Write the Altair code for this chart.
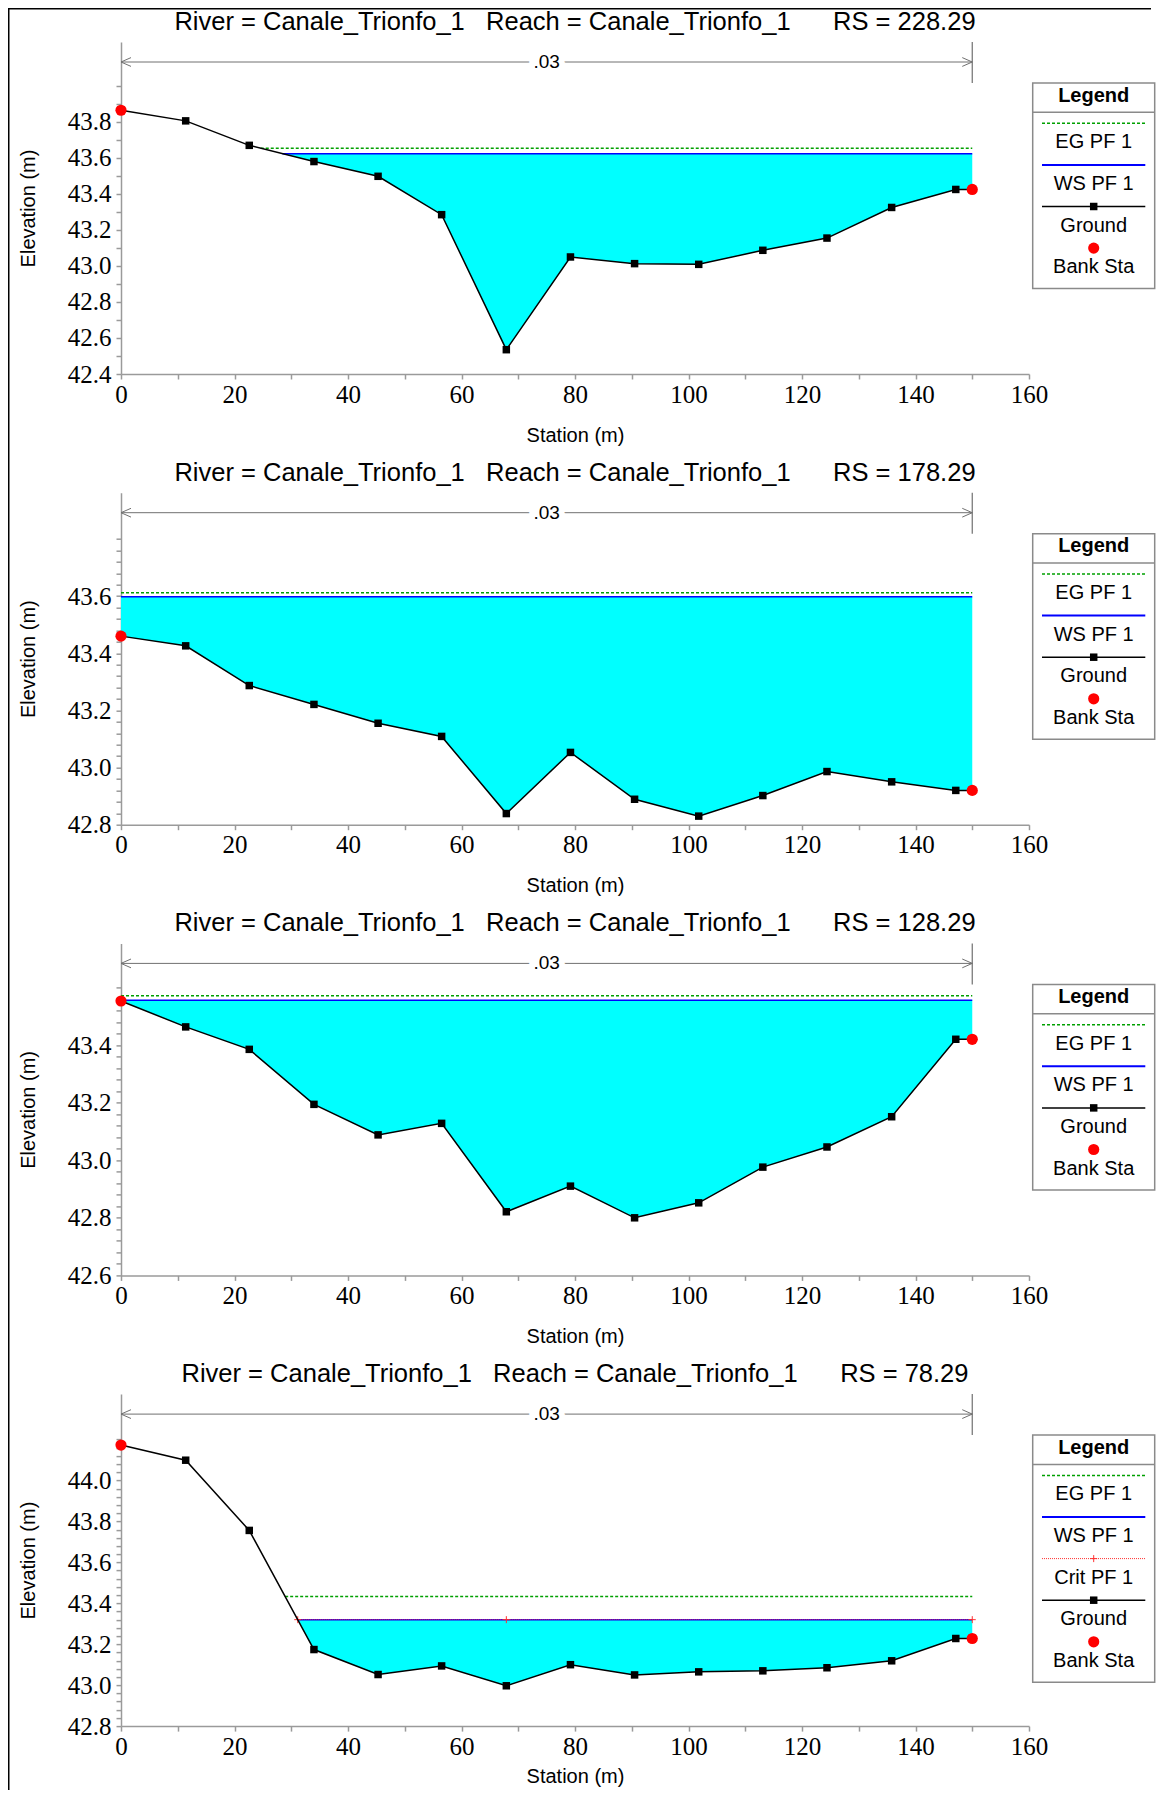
import altair as alt
import pandas as pd
import numpy as np

# ---------------- data ----------------
stations = [0.0, 11.4, 22.6, 34.0, 45.3, 56.5, 67.9, 79.2, 90.5, 101.8, 113.1, 124.4, 135.8, 147.1, 150.0]
bank_left = 0.0
bank_right = 150.0
n_value = ".03"

river_stations = ["228.29", "178.29", "128.29", "78.29"]

ground_228 = [43.865, 43.806, 43.67, 43.58, 43.498, 43.285, 42.535, 43.05, 43.013, 43.009, 43.087, 43.155, 43.325, 43.425, 43.425]
ground_178 = [43.46, 43.426, 43.287, 43.221, 43.155, 43.109, 42.839, 43.053, 42.889, 42.83, 42.902, 42.986, 42.95, 42.92, 42.92]
ground_128 = [43.553, 43.463, 43.385, 43.194, 43.088, 43.128, 42.821, 42.91, 42.8, 42.852, 42.976, 43.046, 43.151, 43.42, 43.42]
ground_78 = [44.173, 44.099, 43.756, 43.174, 43.052, 43.094, 42.997, 43.1, 43.05, 43.065, 43.07, 43.085, 43.119, 43.228, 43.228]
grounds = [ground_228, ground_178, ground_128, ground_78]

ws_pf1 = [43.624, 43.598, 43.556, 43.319]
eg_pf1 = [43.654, 43.612, 43.571, 43.433]
crit_pf1 = [None, None, None, 43.32]

# axis layout (tick labels)
y_domains = [(42.4, 44.244), (42.8, 43.962), (42.6, 43.753), (42.8, 44.422)]
y_label_max = [43.8, 43.6, 43.4, 44.0]
y_tick_max = [44.0, 43.8, 43.6, 44.2]
y_tick_step = [0.1, 0.04, 0.04, 0.04]
x_ticks = list(range(0, 161, 10))

legend_3 = ["EG PF 1", "WS PF 1", "Ground", "Bank Sta"]
legend_4 = ["EG PF 1", "WS PF 1", "Crit PF 1", "Ground", "Bank Sta"]

# ---------------- styling ----------------
W, H = 908, 332
FONT = "Liberation Sans"
LFONT = "Liberation Sans Narrow"
CYAN = "#00FFFF"
EG_COL = "#00A000"
WS_COL = "#0000FF"
CRIT_COL = "#FF3030"
GRAY = "#9a9a9a"
NBSP = "\u00a0"


def wet_profile(st, el, level):
    xs, ys = [], []
    n = len(st)
    for i in range(n):
        if el[i] <= level:
            xs.append(st[i])
            ys.append(el[i])
        if i < n - 1:
            a, b = el[i], el[i + 1]
            if (a - level) * (b - level) < 0:
                t = (level - a) / (b - a)
                xs.append(st[i] + t * (st[i + 1] - st[i]))
                ys.append(level)
    return xs, ys


def panel(idx):
    el = grounds[idx]
    ws = ws_pf1[idx]
    eg = eg_pf1[idx]
    crit = crit_pf1[idx]
    lo, hi = y_domains[idx]
    xscale = alt.Scale(domain=[0, 160], nice=False, zero=False)
    yscale = alt.Scale(domain=[lo, hi], nice=False, zero=False)

    yt = [round(v, 2) for v in np.arange(lo, y_tick_max[idx] + 1e-9, y_tick_step[idx])]
    lmax = y_label_max[idx] + 0.001
    y_axis = alt.Axis(
        values=yt,
        labelExpr=f"(abs(datum.value*5 - round(datum.value*5)) < 0.001 && datum.value <= {lmax}) ? format(datum.value, '.1f') : ''",
        title="Elevation (m)", titleX=-93, titleY=H / 2, titleAngle=270,
        titleAlign="center", titleBaseline="middle",
        labelPadding=5, labelFlush=False, grid=False,
    )
    x_axis = alt.Axis(
        values=x_ticks,
        labelExpr="datum.value % 20 == 0 ? format(datum.value, 'd') : ''",
        title="Station (m)", titleX=W / 2, titleY=61 if idx < 3 else 50,
        titleAlign="center", titleBaseline="middle",
        labelPadding=3, labelFlush=False, grid=False,
    )

    def X(f):
        return alt.X(f, type="quantitative", scale=xscale, axis=x_axis)

    def Y(f):
        return alt.Y(f, type="quantitative", scale=yscale, axis=y_axis)

    gdf = pd.DataFrame({"station": stations, "elev": el})
    banks = gdf[gdf["station"].isin([bank_left, bank_right])]

    wx, wy = wet_profile(stations, el, ws)
    water = pd.DataFrame({"x": wx, "bot": wy, "top": [ws] * len(wx)})
    ex, _ = wet_profile(stations, el, eg)
    eg_df = pd.DataFrame({"x1": [min(ex)], "x2": [max(ex)], "y": [eg]})
    ws_df = pd.DataFrame({"x1": [min(wx)], "x2": [max(wx)], "y": [ws]})

    layers = []
    layers.append(alt.Chart(water).mark_area(color=CYAN, opacity=1).encode(
        x=X("x"), y=Y("top"), y2="bot"))
    layers.append(alt.Chart(eg_df).mark_rule(color=EG_COL, strokeWidth=1.5, strokeDash=[3, 2]).encode(
        x=X("x1"), x2="x2", y=Y("y")))
    layers.append(alt.Chart(ws_df).mark_rule(color=WS_COL, strokeWidth=1.5).encode(
        x=X("x1"), x2="x2", y=Y("y")))
    if crit is not None:
        cx, _ = wet_profile(stations, el, crit)
        thalweg = stations[int(np.argmin(el))]
        crit_df = pd.DataFrame({"x1": [min(cx)], "x2": [max(cx)], "y": [crit]})
        crit_pts = pd.DataFrame({"x": [min(cx), thalweg, max(cx)], "y": [crit] * 3})
        layers.append(alt.Chart(crit_df).mark_rule(color=CRIT_COL, strokeWidth=1, strokeDash=[1, 1]).encode(
            x=X("x1"), x2="x2", y=Y("y")))
        layers.append(alt.Chart(crit_pts).mark_point(
            shape="M-1,0L1,0M0,-1L0,1", size=49, filled=False, color=CRIT_COL, strokeWidth=1, opacity=1).encode(
            x=X("x"), y=Y("y")))
    layers.append(alt.Chart(gdf).mark_line(color="black", strokeWidth=1.5).encode(
        x=X("station"), y=Y("elev")))
    layers.append(alt.Chart(gdf).mark_square(color="black", size=56, opacity=1).encode(
        x=X("station"), y=Y("elev")))
    layers.append(alt.Chart(banks).mark_circle(color="#FF0000", size=125, opacity=1).encode(
        x=X("station"), y=Y("elev")))

    # Manning's n annotation
    ndf = pd.DataFrame({"x1": [bank_left], "x2": [bank_right], "n": [n_value]})
    layers.append(alt.Chart(ndf).mark_rule(color="#707070", strokeWidth=1).encode(
        x=X("x1"), x2="x2", y=alt.value(20)))
    layers.append(alt.Chart(ndf).mark_rule(color="#707070", strokeWidth=1.2).encode(
        x=X("x2"), y=alt.value(0), y2=alt.value(41)))
    layers.append(alt.Chart(ndf).mark_point(
        shape="M5,-2.2L0,0L5,2.2", size=16, filled=False, color="#707070", strokeWidth=1, opacity=1).encode(
        x=X("x1"), y=alt.value(20)))
    layers.append(alt.Chart(ndf).mark_point(
        shape="M-5,-2.2L0,0L-5,2.2", size=16, filled=False, color="#707070", strokeWidth=1, opacity=1).encode(
        x=X("x2"), y=alt.value(20)))
    layers.append(alt.Chart(ndf).transform_calculate(mid="(datum.x1 + datum.x2) / 2").mark_text(
        font=FONT, fontSize=19, color="white", stroke="white", strokeWidth=12, baseline="middle").encode(
        x=X("mid:Q"), y=alt.value(20), text="n:N"))
    layers.append(alt.Chart(ndf).transform_calculate(mid="(datum.x1 + datum.x2) / 2").mark_text(
        font=FONT, fontSize=19, color="black", baseline="middle").encode(
        x=X("mid:Q"), y=alt.value(20), text="n:N"))

    # panel title
    sp3 = NBSP * 3
    sp6 = NBSP * 6
    title = f"River = Canale_Trionfo_1{sp3}Reach = Canale_Trionfo_1{sp6}RS = {river_stations[idx]}"
    tdf = pd.DataFrame({"title": [title]})
    layers.append(alt.Chart(tdf).mark_text(font=FONT, fontSize=25.5, color="black", baseline="middle").encode(
        x=alt.value(W / 2), y=alt.value(-20), text="title:N"))

    # custom legend box
    names = legend_4 if crit is not None else legend_3
    shift = -7
    bx1, bx2, bcx = 918.7 + shift, 1040.7 + shift, 979.7 + shift
    lx1, lx2 = 928 + shift, 1031.3 + shift
    box_top = 41
    sym_y = [81.3 + 41.6 * k for k in range(len(names))]
    txt_y = [100.3 + 41.6 * k for k in range(len(names))]
    box_bot = txt_y[-1] + 21.5
    one = pd.DataFrame({"t": ["Legend"]})
    layers.append(alt.Chart(one).mark_rect(fill="white", stroke="#8a8a8a", strokeWidth=1.5).encode(
        x=alt.value(bx1), x2=alt.value(bx2), y=alt.value(box_top), y2=alt.value(box_bot)))
    layers.append(alt.Chart(one).mark_rule(color="#8a8a8a", strokeWidth=1.5).encode(
        x=alt.value(bx1), x2=alt.value(bx2), y=alt.value(70.3)))
    layers.append(alt.Chart(one).mark_text(font=FONT, fontSize=20, fontWeight="bold", baseline="middle").encode(
        x=alt.value(bcx), y=alt.value(53.7), text="t:N"))
    for k, name in enumerate(names):
        d = pd.DataFrame({"name": [name]})
        sy = sym_y[k]
        if name.startswith("EG"):
            layers.append(alt.Chart(d).mark_rule(color=EG_COL, strokeWidth=1.5, strokeDash=[3, 2]).encode(
                x=alt.value(lx1), x2=alt.value(lx2), y=alt.value(sy)))
        elif name.startswith("WS"):
            layers.append(alt.Chart(d).mark_rule(color=WS_COL, strokeWidth=2).encode(
                x=alt.value(lx1), x2=alt.value(lx2), y=alt.value(sy)))
        elif name.startswith("Crit"):
            layers.append(alt.Chart(d).mark_rule(color=CRIT_COL, strokeWidth=1, strokeDash=[1, 1]).encode(
                x=alt.value(lx1), x2=alt.value(lx2), y=alt.value(sy)))
            layers.append(alt.Chart(d).mark_point(
                shape="M-1,0L1,0M0,-1L0,1", size=49, filled=False, color=CRIT_COL, strokeWidth=1, opacity=1).encode(
                x=alt.value(bcx), y=alt.value(sy)))
        elif name == "Ground":
            layers.append(alt.Chart(d).mark_rule(color="black", strokeWidth=1.5).encode(
                x=alt.value(lx1), x2=alt.value(lx2), y=alt.value(sy)))
            layers.append(alt.Chart(d).mark_square(color="black", size=56, opacity=1).encode(
                x=alt.value(bcx), y=alt.value(sy)))
        else:
            layers.append(alt.Chart(d).mark_circle(color="#FF0000", size=125, opacity=1).encode(
                x=alt.value(bcx), y=alt.value(sy)))
        layers.append(alt.Chart(d).mark_text(font=FONT, fontSize=20, baseline="middle").encode(
            x=alt.value(bcx), y=alt.value(txt_y[k]), text="name:N"))

    # window frame (top + left), drawn once
    if idx == 0:
        f = pd.DataFrame({"f": [1]})
        layers.append(alt.Chart(f).mark_rule(color="black", strokeWidth=2.5).encode(
            x=alt.value(-114), x2=alt.value(1030), y=alt.value(-33.75)))
        layers.append(alt.Chart(f).mark_rule(color="black", strokeWidth=2.5).encode(
            x=alt.value(-112.75), y=alt.value(-35), y2=alt.value(1748)))

    return alt.layer(*layers).properties(width=W, height=H)


chart = alt.vconcat(*[panel(i) for i in range(4)], spacing=118.7, bounds="flush").resolve_scale(
    x="independent", y="independent"
).properties(
    padding={"left": -3, "top": -3, "right": 0, "bottom": 0}
).configure_view(stroke=None).configure_axis(
    domainColor=GRAY, domainWidth=1.5, tickColor=GRAY, tickWidth=1.5, tickSize=5,
    labelFont=LFONT, labelFontSize=25, labelColor="black",
    titleFont=FONT, titleFontSize=20, titleFontWeight="normal", titleColor="black",
)

chart.save("out.html", embed_options={"renderer": "svg", "actions": False})
